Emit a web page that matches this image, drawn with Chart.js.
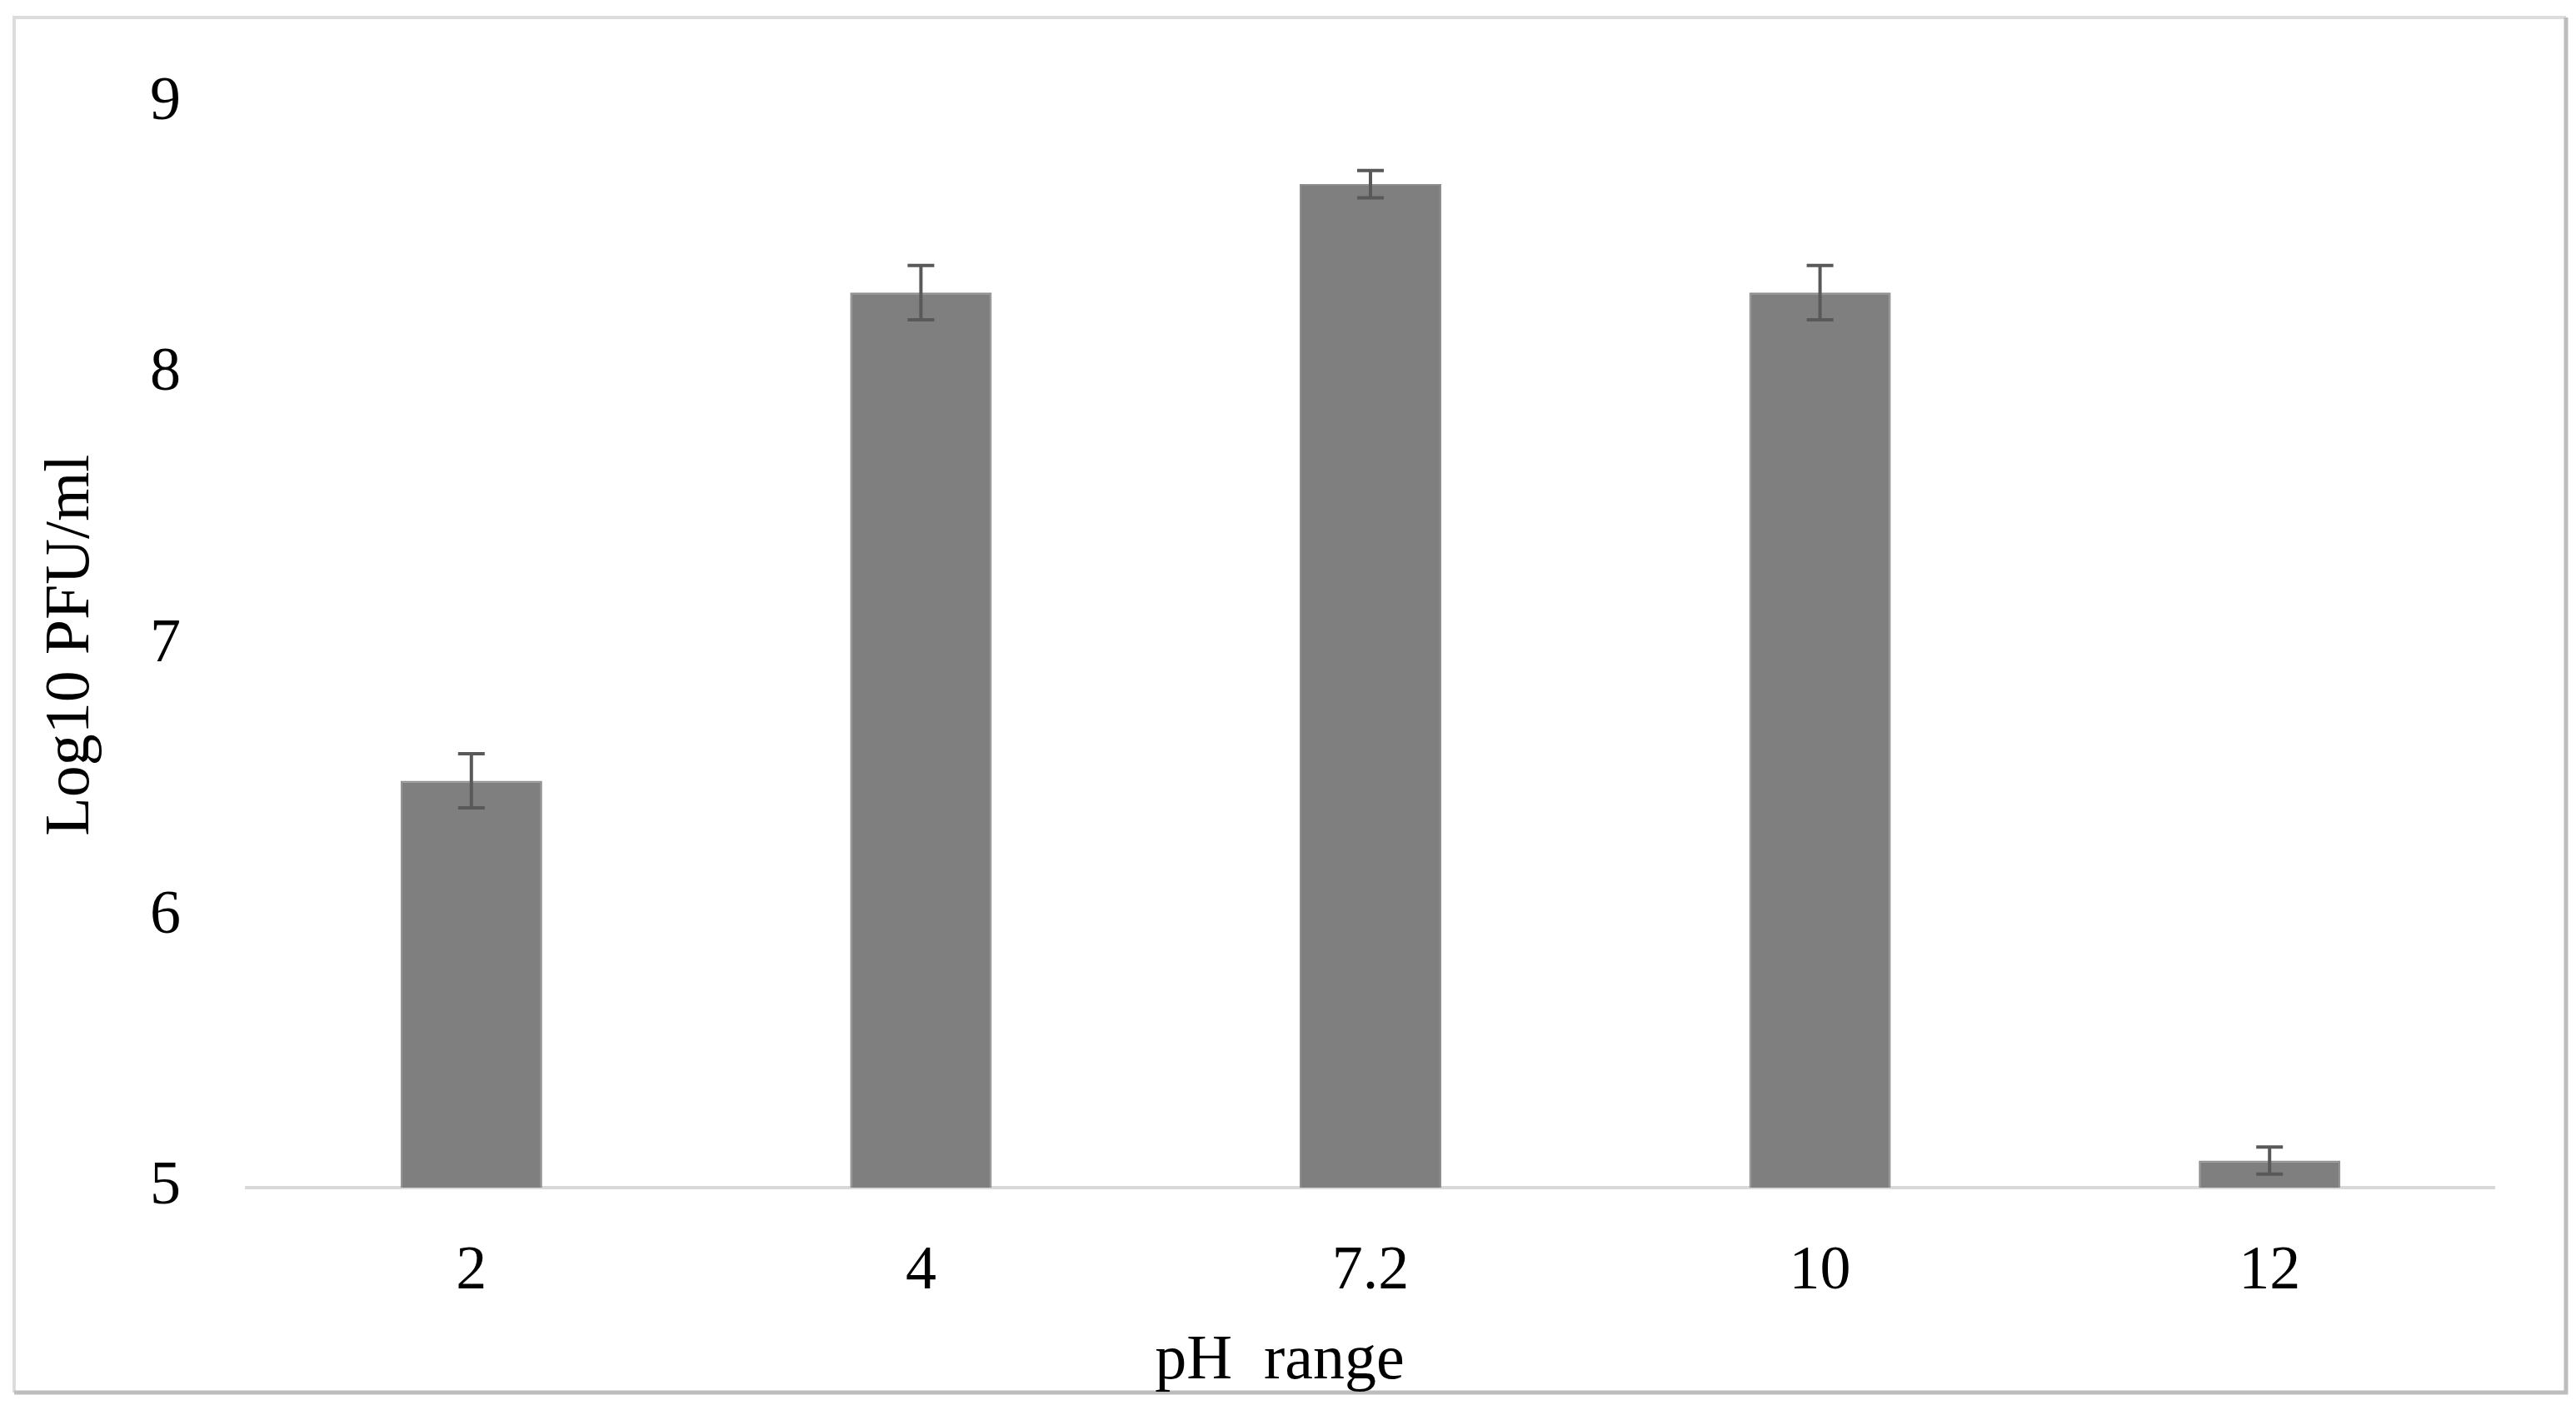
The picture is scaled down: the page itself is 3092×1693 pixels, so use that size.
<!DOCTYPE html>
<html>
<head>
<meta charset="utf-8">
<title>Log10 PFU/ml by pH</title>
<script src="https://cdn.jsdelivr.net/npm/chart.js@4.4.1/dist/chart.umd.min.js"></script>
<style>
    html, body { margin: 0; padding: 0; background: #ffffff; }
    #wrap { width: 3092px; height: 1693px; }
</style>
</head>
<body>
<div id="wrap"><canvas id="ph-chart" width="3092" height="1693"></canvas></div>
<script>
// values
const phLabels = ['2', '4', '7.2', '10', '12'];
const logPfu = [6.5, 8.3, 8.7, 8.3, 5.1];
const logPfuErr = [0.1, 0.1, 0.05, 0.1, 0.05];
const yTicks = [5, 6, 7, 8, 9];
const yTitle = 'Log10 PFU/ml';
const xTitle = 'pH  range';

const serif = "'Liberation Serif', 'Times New Roman', serif";

// light frame round the whole figure
const framePlugin = {
    id: 'frame',
    beforeDraw(chart) {
        const ctx = chart.ctx;
        ctx.save();
        ctx.fillStyle = '#ffffff';
        ctx.fillRect(0, 0, chart.width, chart.height);
        ctx.lineWidth = 4;
        ctx.strokeStyle = '#dcdcdc';
        ctx.beginPath();
        ctx.moveTo(17, chart.height - 21);
        ctx.lineTo(17, 21);
        ctx.lineTo(chart.width - 12, 21);
        ctx.stroke();
        ctx.lineWidth = 5;
        ctx.strokeStyle = '#bdbdbd';
        ctx.beginPath();
        ctx.moveTo(chart.width - 12, 21);
        ctx.lineTo(chart.width - 12, chart.height - 21);
        ctx.lineTo(17, chart.height - 21);
        ctx.stroke();
        ctx.restore();
    }
};

// error bars drawn from logPfuErr through the y scale
const errorBarPlugin = {
    id: 'errorBars',
    afterDatasetsDraw(chart) {
        const ctx = chart.ctx;
        const yScale = chart.scales.y;
        const meta = chart.getDatasetMeta(0);
        ctx.save();
        ctx.strokeStyle = '#595959';
        ctx.lineWidth = 4;
        meta.data.forEach((bar, i) => {
            const top = yScale.getPixelForValue(logPfu[i] + logPfuErr[i]);
            const bottom = yScale.getPixelForValue(logPfu[i] - logPfuErr[i]);
            const half = 16;
            ctx.beginPath();
            ctx.moveTo(bar.x, top);
            ctx.lineTo(bar.x, bottom);
            ctx.moveTo(bar.x - half, top);
            ctx.lineTo(bar.x + half, top);
            ctx.moveTo(bar.x - half, bottom);
            ctx.lineTo(bar.x + half, bottom);
            ctx.stroke();
        });
        ctx.restore();
    }
};

// x title sits centred on the figure, not on the plot area
const xTitlePlugin = {
    id: 'xTitle',
    afterDraw(chart) {
        const ctx = chart.ctx;
        ctx.save();
        ctx.font = '76px ' + serif;
        ctx.fillStyle = '#000000';
        ctx.textAlign = 'center';
        ctx.textBaseline = 'alphabetic';
        ctx.fillText(xTitle, chart.width / 2 - 10, chart.chartArea.bottom + 229);
        ctx.restore();
    }
};

const ctx = document.getElementById('ph-chart').getContext('2d');
const phChart = new Chart(ctx, {
    type: 'bar',
    data: {
        labels: phLabels,
        datasets: [{
            label: yTitle,
            data: logPfu,
            backgroundColor: '#7f7f7f',
            borderColor: '#8e8e8e',
            borderWidth: 2,
            barPercentage: 0.315,
            categoryPercentage: 1
        }]
    },
    options: {
        responsive: false,
        animation: false,
        devicePixelRatio: 1,
        layout: { padding: { left: 20, right: 98, top: 99, bottom: 30 } },
        plugins: {
            legend: { display: false },
            tooltip: { enabled: false }
        },
        scales: {
            x: {
                grid: { display: false, drawTicks: false },
                border: { display: true, color: '#d9d9d9', width: 4 },
                ticks: {
                    color: '#000000',
                    padding: 57,
                    font: { family: serif, size: 74 }
                },
                afterFit: s => { s.height = 237; }
            },
            y: {
                min: 5,
                max: 9,
                grid: { display: false, drawTicks: false },
                border: { display: false },
                afterBuildTicks: s => { s.ticks = yTicks.map(v => ({ value: v })); },
                ticks: {
                    color: '#000000',
                    padding: 79,
                    font: { family: serif, size: 74 }
                },
                title: {
                    display: true,
                    text: yTitle,
                    color: '#000000',
                    padding: { top: 20, bottom: 0 },
                    font: { family: serif, size: 76 }
                },
                afterFit: s => { s.width = 276; }
            }
        }
    },
    plugins: [framePlugin, errorBarPlugin, xTitlePlugin]
});
</script>
</body>
</html>
